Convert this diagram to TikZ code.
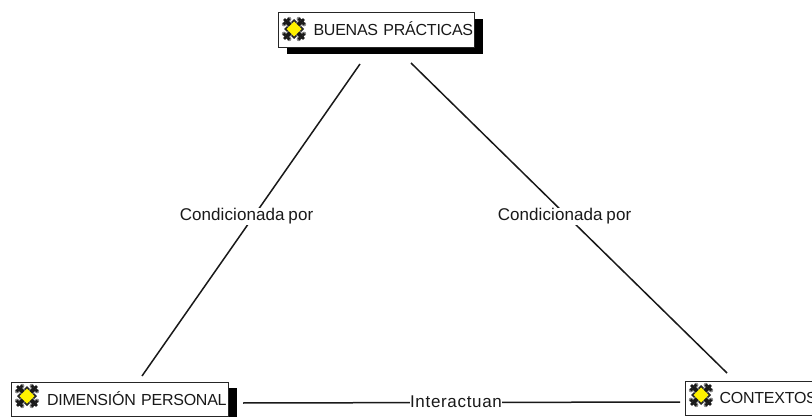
\documentclass[tikz,border=0pt]{standalone}
\usepackage{fontspec}
\setmainfont{Liberation Sans}
\newfontfamily\boxfont[LetterSpace=-1.5,WordSpace=0.6]{Liberation Sans}
\newfontfamily\lblfont[LetterSpace=0.5,WordSpace=0.8]{Liberation Sans}
\newfontfamily\widefont[LetterSpace=4]{Liberation Sans}
\usetikzlibrary{shadows}
\tikzset{
  x=1pt,y=-1pt,
  concept/.style={draw=black!85,line width=1.1pt,fill=white,rectangle,inner sep=0pt,
    anchor=north west,align=left,font=\boxfont\fontsize{16}{18}\selectfont,text=black!90},
  topshadow/.style={general shadow={fill=black,shadow xshift=8pt,shadow yshift=-6pt}},
  leftshadow/.style={general shadow={fill=black,shadow xshift=8pt,shadow yshift=-5pt}},
  linkline/.style={line width=1.5pt,black!90},
  linklabel/.style={fill=white,inner sep=0.5pt,font=\lblfont\fontsize{17}{19}\selectfont,text=black!90},
  pics/conceptmark/.style={code={
    \fill[black!85] (0,-10) -- (10,0) -- (0,10) -- (-10,0) -- cycle;
    \foreach \sx/\sy in {-1/-1,1/-1,-1/1,1/1}{
      \draw[black!35,line width=5.5pt] (\sx*3,\sy*3) -- (\sx*8.5,\sy*8.5);
      \draw[black!90,line width=4pt] (\sx*3,\sy*3) -- (\sx*8.5,\sy*8.5);
      \fill[black!45] (\sx*10,\sy*4.8) circle[radius=2.2];
      \fill[black!45] (\sx*4.8,\sy*10) circle[radius=2.2];
      \fill[black!90] (\sx*9.5,\sy*5.5) circle[radius=1.8];
      \fill[black!90] (\sx*5.5,\sy*9.5) circle[radius=1.8];
      \fill[black!90] (\sx*9,\sy*9) circle[radius=1.8];
    }
    \fill[yellow] (0,-7.5) -- (7.5,0) -- (0,7.5) -- (-7.5,0) -- cycle;
  }}
}
\begin{document}
\begin{tikzpicture}
\useasboundingbox (0,0) rectangle (812,417);
\fill[white] (0,0) rectangle (812,417);

\coordinate (tl) at (360,64);
\coordinate (tr) at (411,63);
\coordinate (bl) at (142,376);
\coordinate (br) at (727,373);
\coordinate (il) at (243,403);
\coordinate (ir) at (680,402);

\draw[linkline] (tl) -- (bl);
\draw[linkline] (tr) -- (br);
\draw[linkline] (il) -- (ir);

\node[linklabel] (cond1) at (246.5,216.5) {Condicionada por};
\node[linklabel] (cond2) at (564.5,216.5) {Condicionada por};
\node[linklabel,font=\widefont\fontsize{17}{19}\selectfont] (inter) at (456,402) {Interactuan};

\node[concept,topshadow,minimum width=196pt,minimum height=35pt,text width=196pt] (buenas) at (278,12)
      {\mbox{\hspace*{35pt}\raisebox{2pt}{BUENAS PRÁCTICAS}}};
\node[concept,leftshadow,minimum width=217pt,minimum height=34pt,text width=217pt] (dimension) at (11,382)
      {\mbox{\hspace*{35.5pt}\raisebox{2pt}{DIMENSIÓN PERSONAL}}};
\node[concept,minimum width=150pt,minimum height=34pt,text width=150pt] (contextos) at (685,381)
      {\mbox{\hspace*{34pt}\raisebox{2pt}{CONTEXTOS}}};

\pic at (294,29) {conceptmark};
\pic at (27,396) {conceptmark};
\pic at (701,395) {conceptmark};
\end{tikzpicture}
\end{document}
